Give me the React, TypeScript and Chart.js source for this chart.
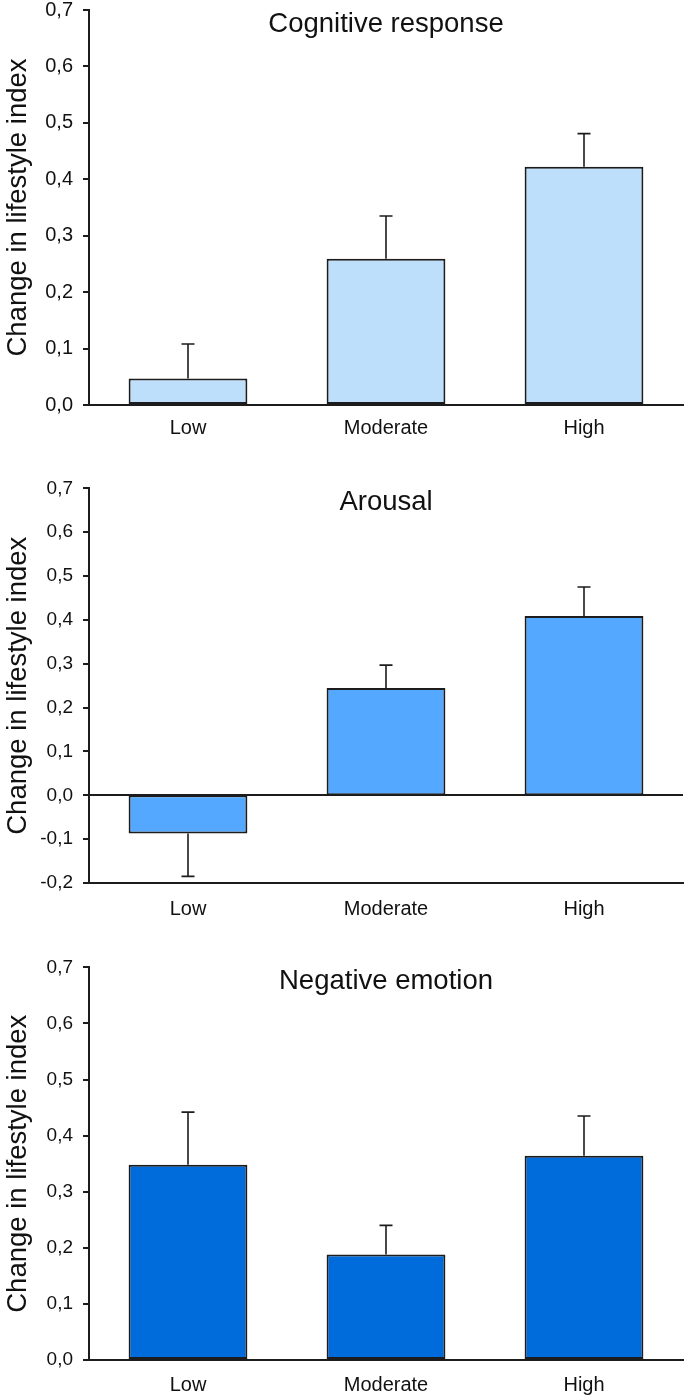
import React, { useEffect, useRef } from "react";
import { Chart, registerables } from "chart.js";

Chart.register(...registerables);

// ---- Data ----
const categories = ["Low", "Moderate", "High"];
const panelTitles = ["Cognitive response", "Arousal", "Negative emotion"];
const yAxisTitle = "Change in lifestyle index";

const cognitiveValues = [0.047, 0.259, 0.422];
const cognitiveErrors = [0.061, 0.076, 0.059];

const arousalValues = [-0.087, 0.245, 0.409];
const arousalErrors = [0.098, 0.052, 0.066];

const negativeValues = [0.348, 0.188, 0.364];
const negativeErrors = [0.094, 0.052, 0.071];

const FONT = "'Liberation Sans', Arial, Helvetica, sans-serif";
const INK = "#1c1c1c";
const PAD_TOP = 20;
const X_AXIS_H = 45;

type PanelCfg = {
  title: string;
  values: number[];
  errors: number[];
  color: string;
  yMin: number;
  yMax: number;
  chartTop: number;
  areaHeight: number;
  labelPad: number;
  tickSize: number;
  zeroLine: boolean;
};

const panels: PanelCfg[] = [
  {
    title: panelTitles[0],
    values: cognitiveValues,
    errors: cognitiveErrors,
    color: "#BEDFFB",
    yMin: 0,
    yMax: 0.7,
    chartTop: 8,
    areaHeight: 397,
    labelPad: 3,
    tickSize: 20,
    zeroLine: false,
  },
  {
    title: panelTitles[1],
    values: arousalValues,
    errors: arousalErrors,
    color: "#55A8FF",
    yMin: -0.2,
    yMax: 0.7,
    chartTop: 487,
    areaHeight: 396,
    labelPad: 6,
    tickSize: 19,
    zeroLine: true,
  },
  {
    title: panelTitles[2],
    values: negativeValues,
    errors: negativeErrors,
    color: "#006BDA",
    yMin: 0,
    yMax: 0.7,
    chartTop: 966,
    areaHeight: 394,
    labelPad: 5,
    tickSize: 19,
    zeroLine: false,
  },
];

function formatTick(v: any): string {
  const n = Number(v);
  if (Math.abs(n) < 1e-9) return "0,0";
  return n.toFixed(1).replace(".", ",");
}

function Panel({ cfg }: { cfg: PanelCfg }) {
  const ref = useRef<HTMLCanvasElement>(null);
  const height = PAD_TOP + cfg.areaHeight + X_AXIS_H;

  useEffect(() => {
    const canvas = ref.current;
    if (!canvas) return;

    const errorPlugin = {
      id: "errorBars",
      afterDatasetsDraw(chart: any) {
        const ctx = chart.ctx;
        const meta = chart.getDatasetMeta(0);
        const yScale = chart.scales.y;
        ctx.save();
        ctx.strokeStyle = INK;
        ctx.lineWidth = 1.6;
        meta.data.forEach((bar: any, i: number) => {
          const v = cfg.values[i];
          const e = cfg.errors[i];
          const end = v >= 0 ? v + e : v - e;
          const yStart = yScale.getPixelForValue(v);
          const yEnd = yScale.getPixelForValue(end);
          const x = bar.x;
          ctx.beginPath();
          ctx.moveTo(x, yStart);
          ctx.lineTo(x, yEnd);
          ctx.moveTo(x - 6.5, yEnd);
          ctx.lineTo(x + 6.5, yEnd);
          ctx.stroke();
        });
        ctx.restore();
      },
    };

    const titlePlugin = {
      id: "panelTitle",
      afterDraw(chart: any) {
        const { ctx, chartArea } = chart;
        ctx.save();
        ctx.fillStyle = "#111";
        ctx.font = `27.5px ${FONT}`;
        ctx.textAlign = "center";
        ctx.textBaseline = "alphabetic";
        ctx.fillText(cfg.title, (chartArea.left + chartArea.right) / 2, chartArea.top + 22);
        ctx.restore();
      },
    };

    const chart = new Chart(canvas, {
      type: "bar",
      data: {
        labels: categories,
        datasets: [
          {
            data: cfg.values,
            backgroundColor: cfg.color,
            borderColor: INK,
            borderWidth: 2,
            borderSkipped: false,
            barPercentage: 0.6,
            categoryPercentage: 1,
          },
        ],
      },
      options: {
        responsive: false,
        animation: false,
        layout: { padding: { top: PAD_TOP, right: 2, left: 0, bottom: 0 } },
        plugins: {
          legend: { display: false },
          tooltip: { enabled: false },
          title: { display: false },
        },
        scales: {
          x: {
            grid: { display: false },
            border: { display: true, color: INK, width: 2 },
            ticks: {
              color: "#111",
              font: { family: FONT, size: 20 },
              padding: cfg.labelPad,
              maxRotation: 0,
            },
            afterFit: (s: any) => {
              s.height = X_AXIS_H;
            },
          },
          y: {
            min: cfg.yMin,
            max: cfg.yMax,
            ticks: {
              stepSize: 0.1,
              callback: (v: any) => formatTick(v),
              color: "#111",
              font: { family: FONT, size: cfg.tickSize },
              padding: 10,
            },
            grid: {
              drawOnChartArea: true,
              color: (c: any) =>
                cfg.zeroLine && c.tick && Math.abs(c.tick.value) < 1e-9 ? INK : "rgba(0,0,0,0)",
              lineWidth: 2,
              tickColor: INK,
              tickLength: 6,
              tickWidth: 2,
            },
            border: { display: true, color: INK, width: 2 },
            title: {
              display: true,
              text: yAxisTitle,
              color: "#111",
              font: { family: FONT, size: 27.5 },
              padding: { top: 2, bottom: 0 },
            },
            afterFit: (s: any) => {
              s.width = 89;
            },
          },
        },
      } as any,
      plugins: [errorPlugin, titlePlugin],
    });

    return () => chart.destroy();
  }, []);

  return (
    <canvas
      ref={ref}
      width={685}
      height={height}
      style={{
        position: "absolute",
        left: 0,
        top: cfg.chartTop - PAD_TOP,
        width: 685,
        height,
      }}
    />
  );
}

export default function App() {
  return (
    <div
      style={{
        position: "absolute",
        left: 0,
        top: 0,
        width: 685,
        height: 1398,
        overflow: "hidden",
        background: "#fff",
      }}
    >
      {panels.map((p, i) => (
        <Panel key={i} cfg={p} />
      ))}
    </div>
  );
}
